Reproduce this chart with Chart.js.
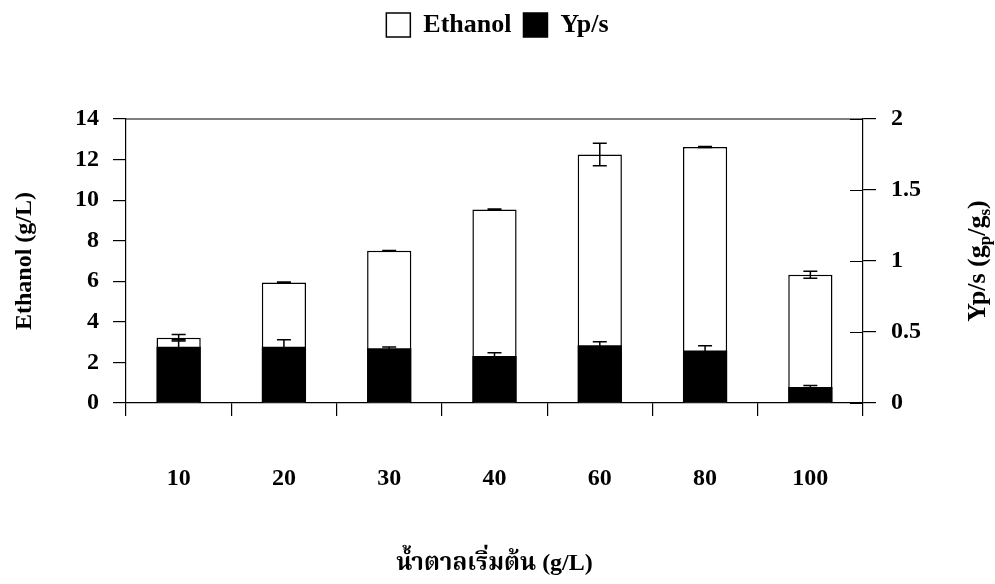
<!DOCTYPE html>
<html>
<head>
<meta charset="utf-8">
<script src="https://cdn.jsdelivr.net/npm/chart.js@4.4.1/dist/chart.umd.min.js"></script>
<style>
  html, body { margin: 0; padding: 0; background: #ffffff; }
  #wrap { width: 995px; height: 584px; }
</style>
</head>
<body>
<div id="wrap"><canvas id="c" width="995" height="584"></canvas></div>
<script>
// ---- data ----
const categories = ['10', '20', '30', '40', '60', '80', '100'];
const ethanol = [3.22, 5.94, 7.50, 9.54, 12.25, 12.62, 6.32];
const ethanolErr = [0.16, 0.02, 0.02, 0.02, 0.56, 0.02, 0.17];
const yps = [0.396, 0.396, 0.385, 0.331, 0.406, 0.370, 0.113];
const ypsErr = [0.05, 0.05, 0.01, 0.023, 0.025, 0.033, 0.01];
const leftTicks = [0, 2, 4, 6, 8, 10, 12, 14];
const rightTicks = [0, 0.5, 1, 1.5, 2];

const FONT = "'Liberation Serif', 'Times New Roman', 'Noto Serif Thai', 'Noto Sans Thai', serif";
const tickFont = { family: FONT, size: 24, weight: 'bold' };

const errorBars = {
  id: 'errorBars',
  afterDatasetsDraw(chart) {
    const ctx = chart.ctx;
    const sets = [
      { idx: 0, vals: ethanol, errs: ethanolErr, axis: 'y' },
      { idx: 1, vals: yps, errs: ypsErr, axis: 'y1' }
    ];
    ctx.save();
    ctx.strokeStyle = '#000';
    ctx.lineWidth = 1.5;
    sets.forEach(s => {
      const meta = chart.getDatasetMeta(s.idx);
      const sc = chart.scales[s.axis];
      meta.data.forEach((el, i) => {
        const x = el.x;
        const yt = sc.getPixelForValue(s.vals[i] + s.errs[i]);
        const yb = sc.getPixelForValue(s.vals[i] - s.errs[i]);
        ctx.beginPath();
        ctx.moveTo(x, yt); ctx.lineTo(x, yb);
        ctx.moveTo(x - 7, yt); ctx.lineTo(x + 7, yt);
        ctx.moveTo(x - 7, yb); ctx.lineTo(x + 7, yb);
        ctx.stroke();
      });
    });
    ctx.restore();
  }
};

const frame = {
  id: 'frame',
  beforeInit(chart) {
    if (chart.legend) {
      const orig = chart.legend.fit;
      chart.legend.fit = function () {
        orig.call(this);
        this.height = 119;
      };
    }
  },
  afterDraw(chart) {
    const ctx = chart.ctx;
    const a = chart.chartArea;
    const y1 = chart.scales.y1;
    ctx.save();
    ctx.strokeStyle = '#000';
    ctx.lineWidth = 1.2;
    // top frame line
    ctx.beginPath();
    ctx.moveTo(a.left, a.top);
    ctx.lineTo(a.right, a.top);
    ctx.stroke();
    // inner ticks of right axis
    ctx.beginPath();
    y1.ticks.forEach(t => {
      const y = Math.round(y1.getPixelForValue(t.value)) + 0.5;
      ctx.moveTo(a.right - 13, y);
      ctx.lineTo(a.right, y);
    });
    ctx.stroke();
    // right axis title with subscripts
    ctx.fillStyle = '#000';
    ctx.translate(977, (a.top + a.bottom) / 2);
    ctx.rotate(-Math.PI / 2);
    ctx.textBaseline = 'alphabetic';
    const big = "bold 26px " + FONT;
    const small = "bold 17px " + FONT;
    const parts = [
      { t: 'Yp/s (g', f: big, dy: 0 },
      { t: 'p', f: small, dy: 5 },
      { t: '/g', f: big, dy: 0 },
      { t: 's', f: small, dy: 5 },
      { t: ')', f: big, dy: 0 }
    ];
    let total = 0;
    parts.forEach(p => { ctx.font = p.f; p.w = ctx.measureText(p.t).width; total += p.w; });
    let x = -total / 2;
    parts.forEach(p => {
      ctx.font = p.f;
      ctx.fillText(p.t, x, 8 + p.dy);
      x += p.w;
    });
    ctx.restore();
  }
};

new Chart(document.getElementById('c'), {
  type: 'bar',
  data: {
    labels: categories,
    datasets: [
      {
        label: 'Ethanol',
        data: ethanol,
        yAxisID: 'y',
        backgroundColor: '#ffffff',
        borderColor: '#000000',
        borderWidth: 1.5,
        order: 2
      },
      {
        label: 'Yp/s',
        data: yps,
        yAxisID: 'y1',
        backgroundColor: '#000000',
        borderColor: '#000000',
        borderWidth: 0,
        order: 1
      }
    ]
  },
  options: {
    responsive: false,
    animation: false,
    devicePixelRatio: 1,
    layout: { padding: 0 },
    datasets: {
      bar: { categoryPercentage: 0.42, barPercentage: 1, grouped: false }
    },
    plugins: {
      tooltip: { enabled: false },
      legend: {
        position: 'top',
        labels: {
          color: '#000',
          font: { family: FONT, size: 26, weight: 'bold' },
          boxWidth: 24,
          boxHeight: 24,
          padding: 12,
          generateLabels(chart) {
            return chart.data.datasets.map((d, i) => ({
              text: d.label,
              fillStyle: d.backgroundColor,
              strokeStyle: '#000',
              lineWidth: 1.5,
              fontColor: '#000',
              hidden: false,
              datasetIndex: i
            }));
          }
        }
      }
    },
    scales: {
      x: {
        type: 'category',
        offset: true,
        afterFit(scale) { scale.height = 181; },
        grid: {
          offset: true,
          drawOnChartArea: false,
          drawTicks: true,
          tickLength: 13,
          color: '#000',
          lineWidth: 1.2
        },
        border: { display: true, color: '#000', width: 1.2 },
        ticks: { color: '#000', font: tickFont, padding: 48, maxRotation: 0 },
        title: {
          display: true,
          text: 'น้ำตาลเริ่มต้น (g/L)',
          color: '#000',
          font: { family: FONT, size: 24, weight: 'bold' },
          padding: { top: 0, bottom: 6 }
        }
      },
      y: {
        position: 'left',
        min: 0,
        max: 14,
        afterFit(scale) { scale.width = 126; },
        afterBuildTicks(scale) { scale.ticks = leftTicks.map(v => ({ value: v })); },
        grid: {
          drawOnChartArea: false,
          tickLength: 13,
          color: '#000',
          lineWidth: 1.2
        },
        border: { display: true, color: '#000', width: 1.2 },
        ticks: { color: '#000', font: tickFont, padding: 14, callback: v => String(v) },
        title: {
          display: true,
          text: 'Ethanol (g/L)',
          color: '#000',
          font: { family: FONT, size: 24, weight: 'bold' },
          padding: { top: 10, bottom: 0 }
        }
      },
      y1: {
        position: 'right',
        min: 0,
        max: 2,
        afterFit(scale) { scale.width = 132; },
        afterBuildTicks(scale) { scale.ticks = rightTicks.map(v => ({ value: v })); },
        grid: {
          drawOnChartArea: false,
          tickLength: 13,
          color: '#000',
          lineWidth: 1.2
        },
        border: { display: true, color: '#000', width: 1.2 },
        ticks: { color: '#000', font: tickFont, padding: 15, callback: v => String(v) }
      }
    }
  },
  plugins: [frame, errorBars]
});
</script>
</body>
</html>
